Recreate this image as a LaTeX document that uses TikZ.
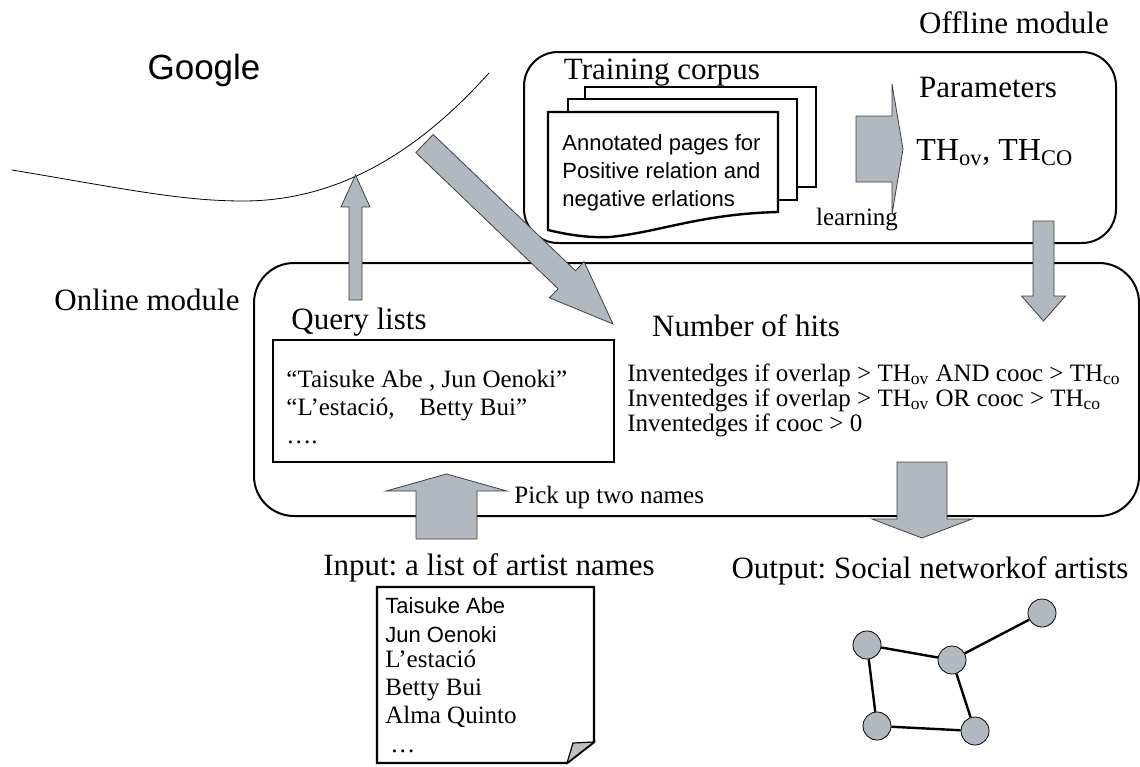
\documentclass[tikz,border=0pt]{standalone}
\usepackage{fontspec}
\setmainfont{Liberation Serif}
\newfontfamily\sansf{Liberation Sans}
\frenchspacing
\usetikzlibrary{calc}
\definecolor{arrowgray}{RGB}{178,184,191}
\tikzset{
  lbl/.style={font=\fontsize{15.5}{18}\selectfont, inner sep=0pt, anchor=base},
  txt/.style={font=\fontsize{12.5}{15}\selectfont, inner sep=0pt, anchor=base west},
  stxt/.style={font=\sansf\fontsize{11}{13}\selectfont, inner sep=0pt, anchor=base west},
  module/.style={draw, line width=1pt, inner sep=0pt},
  page/.style={draw, fill=white, line width=1.2pt},
  artist/.style={circle, draw, fill=arrowgray, minimum size=14pt, inner sep=0pt},
  tie/.style={line width=1.2pt},
  fat/.style n args={3}{draw=black!75, fill=arrowgray, line width=0.4pt,
    to path={($(\tikztostart)!#1!90:(\tikztotarget)$)
      -- ($(\tikztotarget)!#3!(\tikztostart)!#1!90:(\tikztotarget)$)
      -- ($(\tikztotarget)!#3!(\tikztostart)!#2!90:(\tikztotarget)$)
      -- (\tikztotarget)
      -- ($(\tikztotarget)!#3!(\tikztostart)!#2!-90:(\tikztotarget)$)
      -- ($(\tikztotarget)!#3!(\tikztostart)!#1!-90:(\tikztotarget)$)
      -- ($(\tikztostart)!#1!-90:(\tikztotarget)$) -- cycle}}
}

\begin{document}
\begin{tikzpicture}[x=0.5pt,y=-0.5pt]
\useasboundingbox (0,0) rectangle (1140,766);

% google
\node[font=\sansf\fontsize{17.5}{20}\selectfont, inner sep=0pt] (google) at (204,70) {Google};
\draw[line width=0.4pt] (12,170) .. controls (120,188) and (180,201) .. (243,201)
  .. controls (340,201) and (420,150) .. (489,73);

% modules
\node[module, rounded corners=17pt, minimum width=296pt, minimum height=95.5pt] (offline) at (820,147.5) {};
\node[module, rounded corners=20pt, minimum width=442.5pt, minimum height=126.5pt] (online) at (696.5,389.5) {};
\node[lbl] (offlinelbl) at (1014,33) {Offline module};
\node[lbl] (onlinelbl) at (147,310) {Online module};

% training corpus
\node[lbl] (corpuslbl) at (662,79) {Training corpus};
\draw[page] (585,87) rectangle (816,187);
\draw[page] (568,99) rectangle (797,200);
\draw[page] (548,112) -- (778,112) -- (778,212) .. controls (700,214) and (660,232) .. (610,237)
  .. controls (585,238) and (565,234) .. (548,230) -- cycle;
\node[stxt] (ann1) at (562,150) {Annotated pages for};
\node[stxt] (ann2) at (562,178) {Positive relation and};
\node[stxt] (ann3) at (562,206) {negative erlations};

\coordinate (learnS) at (856,149);
\coordinate (learnT) at (903,149);
\draw[fat={16.5pt}{32.5pt}{5.5pt}] (learnS) to (learnT);
\node[txt, anchor=base] (learnlbl) at (857,225) {learning};

\node[lbl] (paramlbl) at (988,97) {Parameters};
\node[font=\fontsize{16}{19}\selectfont, inner sep=0pt, anchor=base west] (params) at (916,160)
  {TH\textsubscript{ov}, TH\textsubscript{CO}};

% query lists
\node[lbl] (querylbl) at (359,329) {Query lists};
\node[module, minimum width=170.5pt, minimum height=61pt] (query) at (443.5,401) {};
\node[txt] (q1) at (286,387) {“Taisuke Abe , Jun Oenoki”};
\node[txt] (q2) at (286,415) {“L’estació,\quad Betty Bui”};
\node[txt] (q3) at (286,443) {….};

\node[lbl] (hitslbl) at (746,336) {Number of hits};
\node[txt] (inv1) at (627,381) {Inventedges if overlap > TH\textsubscript{ov} AND cooc > TH\textsubscript{co}};
\node[txt] (inv2) at (627,406) {Inventedges if overlap > TH\textsubscript{ov} OR cooc > TH\textsubscript{co}};
\node[txt] (inv3) at (627,431) {Inventedges if cooc > 0};

% arrows
\coordinate (gS) at (355.5,300);
\coordinate (gT) at (355.5,175);
\draw[fat={3.25pt}{7.25pt}{16pt}] (gS) to (gT);
\coordinate (dS) at (424.5,143.5);
\coordinate (dT) at (613,324);
\draw[fat={6.25pt}{12.5pt}{32pt}] (dS) to (dT);
\coordinate (pS) at (1043.5,221);
\coordinate (pT) at (1043.5,321);
\draw[fat={5.25pt}{11pt}{12.5pt}] (pS) to (pT);
\coordinate (iS) at (446.5,539);
\coordinate (iT) at (446.5,474);
\draw[fat={15.25pt}{30.25pt}{8.5pt}] (iS) to (iT);
\coordinate (oS) at (922,462);
\coordinate (oT) at (922,538);
\draw[fat={12.5pt}{25pt}{9.5pt}] (oS) to (oT);
\node[txt] (picklbl) at (514,503) {Pick up two names};

% input
\node[lbl] (inputlbl) at (489,575) {Input: a list of artist names};
\draw[line width=1.2pt] (377,587) -- (594,587) -- (594,742) -- (567,763) -- (377,763) -- cycle;
\draw[line width=0.6pt, fill=black!25] (567,763) -- (573,743) -- (594,742) -- cycle;
\node[stxt] (n1) at (385,613) {Taisuke Abe};
\node[stxt] (n2) at (385,642) {Jun Oenoki};
\node[txt] (n3) at (385,667) {L’estació};
\node[txt] (n4) at (385,695) {Betty Bui};
\node[txt] (n5) at (385,723) {Alma Quinto};
\node[txt] (n6) at (390,752) {…};

% output
\node[lbl] (outputlbl) at (930,578) {Output: Social networkof artists};
\node[artist] (a1) at (867,645) {};
\node[artist] (a2) at (952,660) {};
\node[artist] (a3) at (1042,613) {};
\node[artist] (a4) at (877,726) {};
\node[artist] (a5) at (975,731) {};
\draw[tie] (a1) -- (a2);
\draw[tie] (a2) -- (a3);
\draw[tie] (a1) -- (a4);
\draw[tie] (a4) -- (a5);
\draw[tie] (a2) -- (a5);
\end{tikzpicture}
\end{document}
